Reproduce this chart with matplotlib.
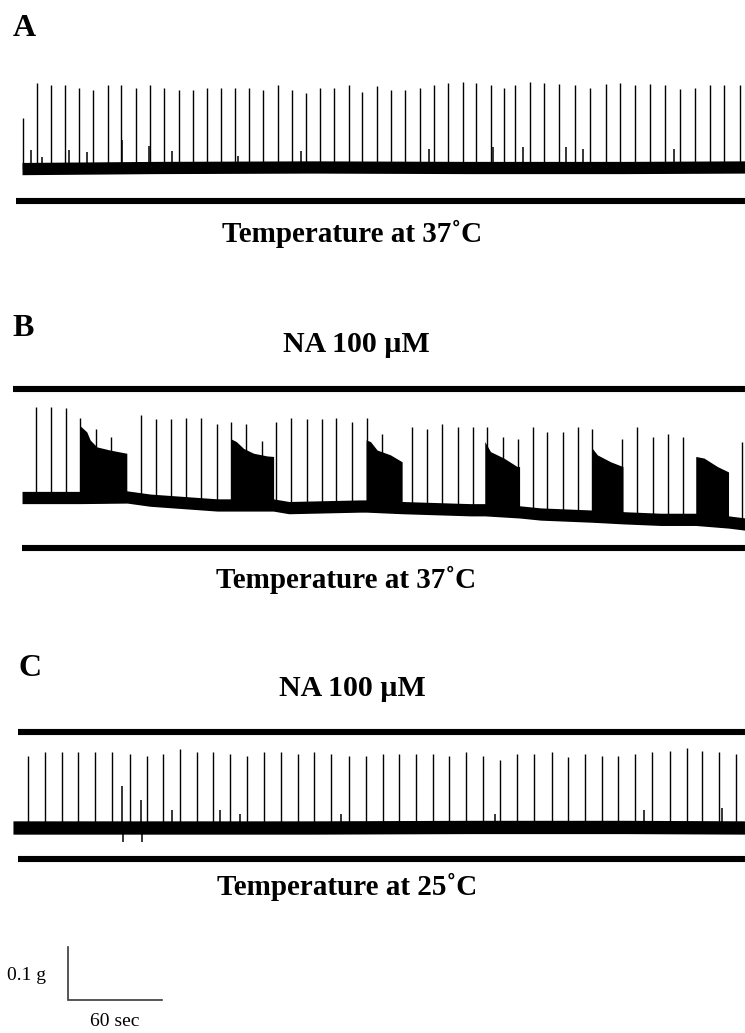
import numpy as np
import matplotlib
matplotlib.use("Agg")
import matplotlib.pyplot as plt

# ---------------- data (time in s, tension in g) ----------------
# Panel A : 37 C control
A_SPIKE_T = [14.7, 23.5, 32.7, 41.5, 50.8, 59.4, 69.0, 77.4, 87.0, 96.2, 104.9, 114.3,
             123.5, 132.5, 141.5, 150.4, 159.6, 168.6, 177.8, 187.2, 196.0, 205.1, 213.9,
             223.3, 232.1, 241.7, 250.6, 259.6, 268.8, 278.2, 286.7, 296.2, 304.9, 314.1,
             322.9, 329.9, 339.1, 348.5, 358.1, 368.1, 377.6, 387.8, 397.2, 406.6, 416.0,
             425.6, 435.7, 444.9, 454.5, 463.9, 473.9]
A_SPIKE_G = [0.092, 0.159, 0.154, 0.154, 0.150, 0.145, 0.154, 0.154, 0.150, 0.154, 0.150,
             0.145, 0.145, 0.150, 0.150, 0.150, 0.150, 0.145, 0.154, 0.145, 0.139, 0.150,
             0.150, 0.154, 0.141, 0.152, 0.145, 0.145, 0.150, 0.154, 0.159, 0.161, 0.159,
             0.154, 0.150, 0.154, 0.161, 0.158, 0.156, 0.154, 0.150, 0.156, 0.158, 0.154,
             0.156, 0.154, 0.148, 0.150, 0.154, 0.154, 0.154]
A_SMALL_T = [19.7, 26.7, 44.4, 55.6, 78.0, 95.5, 110.3, 152.6, 193.0, 274.4, 315.8,
             334.6, 362.2, 373.1, 431.9]
A_SMALL_G = [0.034, 0.021, 0.034, 0.030, 0.053, 0.041, 0.030, 0.021, 0.030, 0.034,
             0.038, 0.038, 0.038, 0.034, 0.034]
A_BASE_T = [14.1, 100.0, 200.0, 300.0, 400.0, 477.6]
A_BASE_G = [-0.002, 0.000, 0.001, 0.000, 0.000, 0.001]
A_TEMP_BAR = (10.3, 477.6, -0.063)

# Panel B : NA 100 uM at 37 C
B_SPIKE_T = [22.9, 32.7, 42.1, 51.5, 61.3, 71.2, 90.2, 100.2, 109.6, 119.0, 129.0, 138.7,
             147.9, 157.5, 167.5, 176.9, 186.3, 196.6, 206.0, 215.4, 225.4, 235.1, 244.7,
             264.1, 273.5, 282.9, 293.1, 302.6, 311.7, 322.0, 331.4, 341.0, 350.4, 360.3,
             369.9, 379.3, 398.5, 408.1, 418.4, 427.8, 437.2, 475.4]
B_SPIKE_G = [0.169, 0.169, 0.167, 0.150, 0.128, 0.114, 0.155, 0.147, 0.147, 0.150, 0.150,
             0.137, 0.142, 0.137, 0.106, 0.142, 0.150, 0.147, 0.147, 0.150, 0.142, 0.150,
             0.119, 0.133, 0.128, 0.137, 0.133, 0.133, 0.133, 0.114, 0.110, 0.133, 0.123,
             0.123, 0.133, 0.128, 0.110, 0.133, 0.114, 0.119, 0.114, 0.105]
B_BASE_T = [14.1, 51.3, 81.4, 96.2, 139.1, 147.4, 175.0, 185.0, 230.8, 234.6, 257.7,
            301.3, 310.3, 332.7, 346.2, 379.5, 398.7, 423.1, 445.5, 466.7, 477.6]
B_BASE_G = [0.000, 0.000, 0.001, -0.005, -0.014, -0.014, -0.014, -0.019, -0.016, -0.016,
            -0.019, -0.023, -0.023, -0.027, -0.031, -0.035, -0.038, -0.041, -0.041,
            -0.046, -0.050]
# bursts of fused contractions : (time points, upper envelope)
B_BURST_T = [[51.5, 55.6, 57.7, 62.0, 70.5, 81.2],
             [147.9, 151.3, 156.0, 162.4, 171.0, 175.2],
             [234.4, 237.2, 241.5, 250.0, 257.5],
             [310.4, 314.1, 322.6, 331.2, 332.7],
             [379.3, 382.5, 391.0, 398.9],
             [445.5, 450.8, 459.4, 466.5]]
B_BURST_G = [[0.134, 0.123, 0.108, 0.095, 0.089, 0.083],
             [0.110, 0.105, 0.092, 0.083, 0.078, 0.077],
             [0.108, 0.105, 0.089, 0.080, 0.067],
             [0.105, 0.086, 0.074, 0.058, 0.058],
             [0.092, 0.080, 0.067, 0.058],
             [0.077, 0.074, 0.058, 0.048]]
B_NA_BAR = (8.3, 477.6, 0.203)
B_TEMP_BAR = (14.1, 477.6, -0.095)

# Panel C : NA 100 uM at 25 C
C_SPIKE_T = [17.8, 28.8, 39.9, 50.0, 61.1, 72.0, 83.1, 94.0, 104.5, 115.4, 126.1, 136.3,
             147.2, 158.1, 169.2, 180.1, 191.0, 201.3, 212.2, 223.3, 234.4, 245.1, 255.3,
             266.5, 277.4, 287.6, 298.5, 309.4, 320.3, 331.2, 342.1, 353.2, 363.5, 374.4,
             385.3, 395.5, 406.4, 417.8, 428.7, 439.6, 449.8, 460.7, 471.6]
C_SPIKE_G = [0.134, 0.142, 0.142, 0.142, 0.142, 0.142, 0.138, 0.134, 0.138, 0.147, 0.142,
             0.142, 0.138, 0.134, 0.142, 0.142, 0.138, 0.142, 0.138, 0.134, 0.134, 0.138,
             0.138, 0.138, 0.138, 0.134, 0.142, 0.134, 0.127, 0.138, 0.138, 0.142, 0.132,
             0.138, 0.134, 0.134, 0.138, 0.142, 0.144, 0.149, 0.144, 0.142, 0.138]
C_SMALL_T = [78.0, 90.2, 110.4, 141.0, 153.8, 218.4, 316.7, 412.4, 462.2, 78.8, 90.8]
C_SMALL_G = [0.077, 0.052, 0.032, 0.032, 0.025, 0.025, 0.025, 0.032, 0.036, -0.028, -0.027]
C_BASE_T = [8.3, 100.0, 200.0, 300.0, 400.0, 477.6]
C_BASE_G = [0.000, 0.000, 0.000, 0.001, 0.001, 0.000]
C_NA_BAR = (11.5, 477.6, 0.180)
C_TEMP_BAR = (11.5, 477.6, -0.059)

SCALE_T0, SCALE_SEC, SCALE_G = 43.6, 60, 0.1

# ---------------- figure ----------------
W, H = 745, 1033
fig = plt.figure(figsize=(W / 100, H / 100), dpi=100)
T_MAX = W / 1.5617   # seconds across full width


def band_axes(top_px, bot_px, base_px):
    ax = fig.add_axes([0, 1 - bot_px / H, 1, (bot_px - top_px) / H])
    ax.set_xlim(0, T_MAX)
    ax.set_ylim((base_px - bot_px) / 533.0, (base_px - top_px) / 533.0)
    ax.axis("off")
    return ax


def draw_trace(ax, bt, bg, half, st, sg, small_t=None, small_g=None):
    t = np.linspace(bt[0], bt[-1], 800)
    b = np.interp(t, bt, bg)
    ax.fill_between(t, b - half, b + half, color="black", lw=0, zorder=2)
    sb = np.interp(st, bt, bg)
    ax.vlines(st, sb, sg, color="black", lw=1.0, zorder=3)
    if small_t is not None:
        smb = np.interp(small_t, bt, bg)
        ax.vlines(small_t, smb, np.array(small_g) + smb, color="black", lw=1.1, zorder=3)


def hbar(ax, bar):
    ax.plot([bar[0], bar[1]], [bar[2], bar[2]], color="black", lw=4.4,
            solid_capstyle="butt", zorder=2)


axA = band_axes(60, 215, 167.5)
draw_trace(axA, A_BASE_T, A_BASE_G, 0.0115, A_SPIKE_T, A_SPIKE_G, A_SMALL_T, A_SMALL_G)
hbar(axA, A_TEMP_BAR)

axB = band_axes(380, 560, 497.5)
draw_trace(axB, B_BASE_T, B_BASE_G, 0.0115, B_SPIKE_T, B_SPIKE_G)
for bt_, bg_ in zip(B_BURST_T, B_BURST_G):
    tt = np.linspace(bt_[0], bt_[-1], 100)
    low = np.interp(tt, B_BASE_T, B_BASE_G) - 0.010
    axB.fill_between(tt, low, np.interp(tt, bt_, bg_), color="black", lw=0, zorder=2)
hbar(axB, B_NA_BAR)
hbar(axB, B_TEMP_BAR)

axC = band_axes(720, 870, 827.5)
draw_trace(axC, C_BASE_T, C_BASE_G, 0.0125, C_SPIKE_T, C_SPIKE_G, C_SMALL_T, C_SMALL_G)
hbar(axC, C_NA_BAR)
hbar(axC, C_TEMP_BAR)

axS = band_axes(940, 1010, 1000)
axS.plot([SCALE_T0, SCALE_T0, SCALE_T0 + SCALE_SEC], [SCALE_G, 0, 0],
         color="#3a3a3a", lw=1.2, solid_joinstyle="miter")

serif = ["Liberation Serif", "DejaVu Serif"]


def ftext(x, y, s, size, bold=True, ha="center"):
    fig.text(x / W, 1 - y / H, s, ha=ha, va="center", fontsize=size,
             family=serif, weight="bold" if bold else "normal", color="black")


ftext(24.5, 28, "A", 23)
ftext(23.5, 328, "B", 23)
ftext(30, 668, "C", 23)
ftext(352, 234, "Temperature at 37˚C", 21)
ftext(346, 580, "Temperature at 37˚C", 21)
ftext(347, 887, "Temperature at 25˚C", 21)
ftext(356, 345, "NA 100 µM", 21.5)
ftext(352, 689, "NA 100 µM", 21.5)
ftext(7, 976, "0.1 g", 14, bold=False, ha="left")
ftext(115, 1022, "60 sec", 14, bold=False)

fig.savefig("out.png", dpi=100)
